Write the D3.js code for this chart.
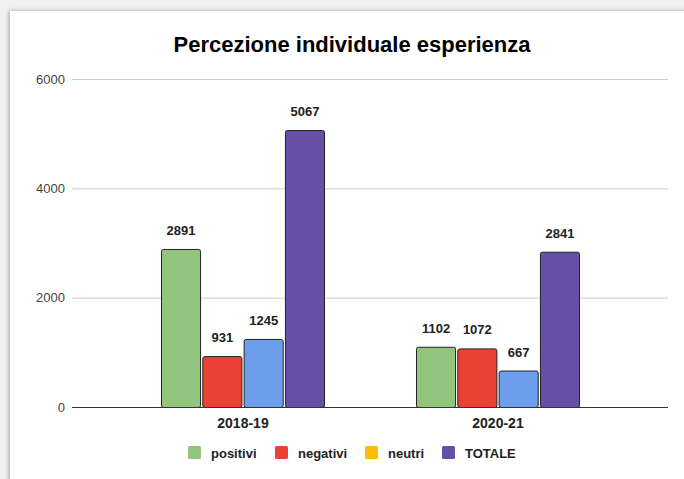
<!DOCTYPE html>
<html><head><meta charset="utf-8">
<script src="https://cdn.jsdelivr.net/npm/d3@7"></script>
<style>
html,body{margin:0;padding:0;background:#f1f1f1;}
svg{display:block;font-family:"Liberation Sans",Arial,sans-serif;}
</style></head><body>
<svg id="c" width="684" height="479"></svg>
<script>
const title = "Percezione individuale esperienza";
const categories = ["2018-19", "2020-21"];
const seriesNames = ["positivi", "negativi", "neutri", "TOTALE"];
const barColors = ["#93c47d", "#ea4335", "#6d9eeb", "#674ea7"];
const legendColors = ["#93c47d", "#ea4335", "#fbbc04", "#674ea7"];
const positivi = [2891, 1102];
const negativi = [931, 1072];
const neutri = [1245, 667];
const totale = [5067, 2841];
const yTicks = [0, 2000, 4000, 6000];

const values = [positivi, negativi, neutri, totale];
const svg = d3.select("#c");

// card with shadow
const defs = svg.append("defs");
const f = defs.append("filter").attr("id","sh").attr("x","-5%").attr("y","-5%").attr("width","110%").attr("height","110%");
f.append("feGaussianBlur").attr("in","SourceAlpha").attr("stdDeviation",2);
f.append("feOffset").attr("dx",-1).attr("dy",0).attr("result","b");
f.append("feComponentTransfer").append("feFuncA").attr("type","linear").attr("slope",0.35);
const m = f.append("feMerge"); m.append("feMergeNode"); m.append("feMergeNode").attr("in","SourceGraphic");
svg.append("rect").attr("x",10).attr("y",11).attr("width",700).attr("height",500).attr("fill","#fff").attr("filter","url(#sh)");

const plotL = 72, plotR = 668, plotT = 79, plotB = 407;
const y = d3.scaleLinear().domain([0, 6000]).range([plotB, plotT]);
const x0 = d3.scaleBand().domain(categories).range([115.5, 625.5]).paddingInner(0).paddingOuter(0);
const x1 = d3.scaleBand().domain(seriesNames).range([0, 164]).paddingInner(0.03);

svg.append("text").attr("x", 352).attr("y", 52).attr("text-anchor","middle")
  .attr("font-size", 22).attr("font-weight","bold").attr("fill","#000").text(title);

// gridlines
svg.append("g").selectAll("line").data(yTicks.filter(d=>d>0)).join("line")
  .attr("x1", plotL).attr("x2", plotR).attr("y1", d=>y(d)+0.5).attr("y2", d=>y(d)+0.5)
  .attr("stroke","#cccccc").attr("stroke-width",1);
// y labels
svg.append("g").selectAll("text").data(yTicks).join("text")
  .attr("x", 65).attr("y", d=>y(d)+4.5).attr("text-anchor","end")
  .attr("font-size", 13).attr("fill","#444").text(d=>d);

// bars
const groups = svg.append("g").selectAll("g").data(categories).join("g")
  .attr("transform", c => `translate(${x0(c) + (x0.bandwidth()-164)/2},0)`);
groups.each(function(c, ci){
  const g = d3.select(this);
  seriesNames.forEach((s, si) => {
    const v = values[si][ci];
    g.append("rect").attr("x", x1(s)+0.5).attr("y", y(v)+0.5)
      .attr("width", x1.bandwidth()-1).attr("height", plotB - y(v))
      .attr("rx", 2).attr("fill", barColors[si]).attr("stroke","#222").attr("stroke-width",1);
    g.append("text").attr("x", x1(s)+x1.bandwidth()/2).attr("y", y(v)-14)
      .attr("text-anchor","middle").attr("font-size",13).attr("font-weight","bold").attr("fill","#222").text(v);
  });
});

// baseline
svg.append("line").attr("x1",plotL).attr("x2",plotR).attr("y1",plotB+0.5).attr("y2",plotB+0.5)
  .attr("stroke","#333").attr("stroke-width",1);

// x labels
svg.append("g").selectAll("text").data(categories).join("text")
  .attr("x", c => x0(c)+x0.bandwidth()/2).attr("y", 428).attr("text-anchor","middle")
  .attr("font-size",14).attr("font-weight","bold").attr("fill","#222").text(c=>c);

// legend
const legX = [188, 275, 365, 442];
const leg = svg.append("g").selectAll("g").data(seriesNames).join("g")
  .attr("transform",(d,i)=>`translate(${legX[i]},446)`);
leg.append("rect").attr("width",13).attr("height",13).attr("rx",1.5).attr("fill",(d,i)=>legendColors[i]);
leg.append("text").attr("x",23).attr("y",11.5).attr("font-size",13).attr("font-weight","bold").attr("fill","#222").text(d=>d);
</script>
</body></html>
